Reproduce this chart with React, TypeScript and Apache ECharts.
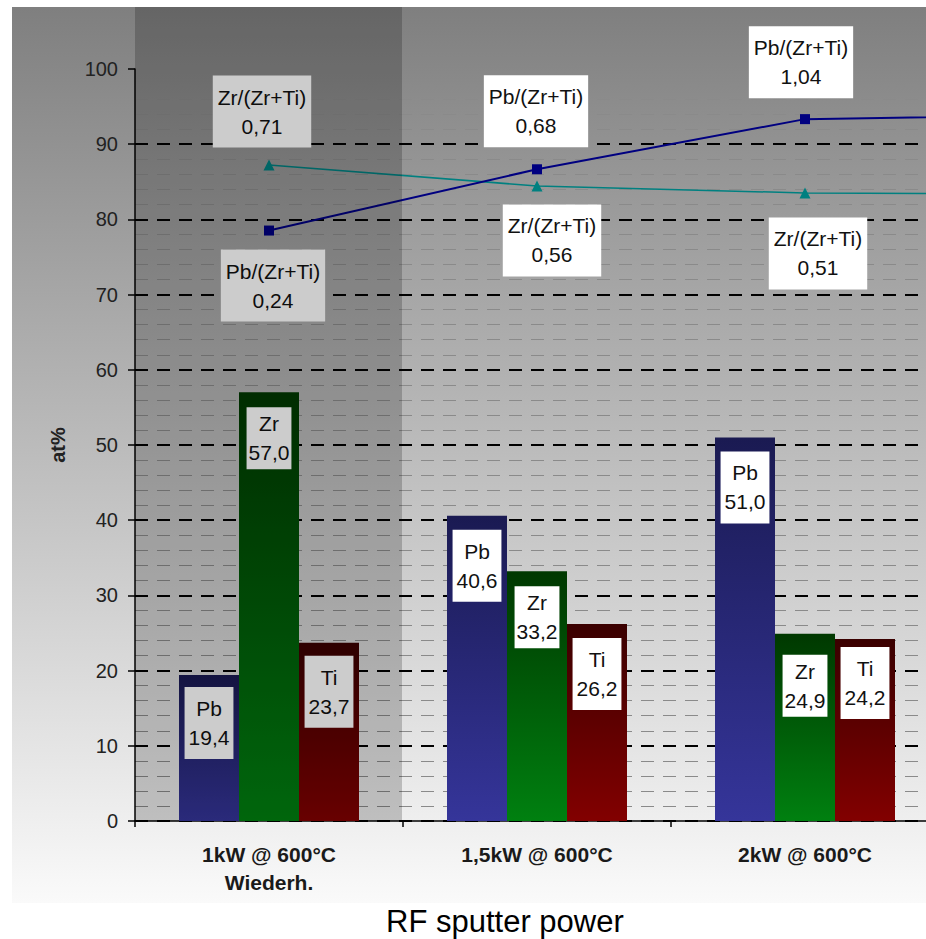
import React, { useEffect, useRef } from "react";
import * as echarts from "echarts";

// Sputter runs (the last slot only carries the continuing ratio lines)
const categories = ["1kW @ 600°C\nWiederh.", "1,5kW @ 600°C", "2kW @ 600°C", ""];

// Film composition in at%
const pbValues: (number | null)[] = [19.4, 40.6, 51.0, null];
const zrValues: (number | null)[] = [57.0, 33.2, 24.9, null];
const tiValues: (number | null)[] = [23.7, 26.2, 24.2, null];

// Ratios, plotted against a hidden secondary axis
const pbRatio = [0.24, 0.68, 1.04, 1.07];
const zrRatio = [0.71, 0.56, 0.51, 0.5];

// Layout
const W = 926;
const H = 939;
const GRID_LEFT = 135;
const GRID_TOP = 69;
const AXIS_Y = 821;
const CAT_W = 268;
const CANVAS_W = GRID_LEFT + CAT_W * categories.length;
const FONT = "'Liberation Sans', Arial, sans-serif";

const fmt1 = (v: number) => v.toFixed(1).replace(".", ",");
const fmt2 = (v: number) => v.toFixed(2).replace(".", ",");

// Per-point label placement
const barLabelDistance: Record<string, number[]> = {
  Pb: [12, 14, 14],
  Zr: [15, 15, 21],
  Ti: [13, 14, 8],
};
const lineLabelPlacement: Record<string, { position: string; distance: number; offset: number[] }[]> = {
  "Pb/(Zr+Ti)": [
    { position: "bottom", distance: 14, offset: [4, 0] },
    { position: "top", distance: 17, offset: [-1, 0] },
    { position: "top", distance: 16, offset: [-4, 0] },
  ],
  "Zr/(Zr+Ti)": [
    { position: "top", distance: 12, offset: [-7, 0] },
    { position: "bottom", distance: 13, offset: [15, 0] },
    { position: "bottom", distance: 19, offset: [13, 0] },
  ],
};

const grad = (top: string, bottom: string) =>
  new echarts.graphic.LinearGradient(0, 0, 0, 1, [
    { offset: 0, color: top },
    { offset: 1, color: bottom },
  ]);

function barSeries(name: string, values: (number | null)[], top: string, bottom: string, padding: number[]) {
  return {
    type: "bar",
    name,
    barWidth: 60,
    barGap: "0%",
    itemStyle: { color: grad(top, bottom) },
    label: {
      show: true,
      position: "insideTop",
      formatter: (p: any) => `${p.seriesName}\n${fmt1(p.value)}`,
      backgroundColor: "#ffffff",
      padding,
      fontSize: 21,
      lineHeight: 29,
      color: "#111111",
      fontFamily: FONT,
      align: "center",
    },
    data: values.map((v, i) =>
      v == null
        ? null
        : { value: v, label: { distance: (barLabelDistance[name] || [])[i] ?? 14 } }
    ),
  };
}

function lineSeries(name: string, values: number[], color: string, symbol: string, symbolSize: number, width: number) {
  const place = lineLabelPlacement[name] || [];
  return {
    type: "line",
    name,
    yAxisIndex: 1,
    symbol,
    symbolSize,
    itemStyle: { color },
    lineStyle: { color, width },
    label: {
      show: true,
      formatter: (p: any) => `${p.seriesName}\n${fmt2(p.value)}`,
      backgroundColor: "#ffffff",
      padding: [7, 5],
      fontSize: 21,
      lineHeight: 29,
      color: "#111111",
      fontFamily: FONT,
      align: "center",
    },
    data: values.map((v, i) =>
      place[i]
        ? { value: v, label: { position: place[i].position, distance: place[i].distance, offset: place[i].offset } }
        : { value: v, label: { show: false } }
    ),
  };
}

export default function App() {
  const ref = useRef<HTMLDivElement>(null);

  useEffect(() => {
    if (!ref.current) return;
    const chart = echarts.init(ref.current, null, { renderer: "svg" });

    chart.setOption({
      animation: false,
      backgroundColor: "#ffffff",
      textStyle: { fontFamily: FONT },
      title: {
        text: "RF sputter power",
        left: 386,
        top: 906,
        padding: 0,
        textStyle: { fontSize: 31, fontWeight: "normal", color: "#000000", fontFamily: FONT },
      },
      graphic: [
        {
          type: "rect",
          z: -10,
          silent: true,
          shape: { x: 12, y: 7, width: CANVAS_W, height: 896 },
          style: {
            fill: new echarts.graphic.LinearGradient(0, 0, 0, 1, [
              { offset: 0, color: "#7f7f7f" },
              { offset: 1, color: "#fafafa" },
            ]),
          },
        },
        {
          // shaded band over the repeated run
          type: "rect",
          z: 100,
          silent: true,
          shape: { x: GRID_LEFT, y: 7, width: CAT_W - 1, height: AXIS_Y - 7 },
          style: { fill: "rgba(0,0,0,0.2)" },
        },
      ],
      grid: {
        left: GRID_LEFT,
        top: GRID_TOP,
        right: 0,
        bottom: H - AXIS_Y,
        containLabel: false,
      },
      xAxis: {
        type: "category",
        data: categories,
        axisLine: { show: true, lineStyle: { color: "#000000", width: 1.5 } },
        axisTick: { show: true, length: 6, lineStyle: { color: "#000000", width: 1.5 } },
        axisLabel: {
          fontSize: 21,
          fontWeight: "bold",
          color: "#1a1a1a",
          lineHeight: 28,
          margin: 19,
          fontFamily: FONT,
          interval: 0,
        },
        splitLine: { show: false },
      },
      yAxis: [
        {
          type: "value",
          min: 0,
          max: 100,
          interval: 10,
          name: "at%",
          nameLocation: "middle",
          nameRotate: 90,
          nameGap: 67,
          nameTextStyle: { fontSize: 20, fontWeight: "bold", color: "#222222", fontFamily: FONT },
          axisLine: { show: true, lineStyle: { color: "#000000", width: 1.5 } },
          axisTick: { show: true, length: 7, lineStyle: { color: "#000000", width: 1.5 } },
          axisLabel: { fontSize: 20, color: "#222222", margin: 17, fontFamily: FONT },
          splitLine: {
            show: true,
            showMaxLine: false,
            lineStyle: { color: "#000000", width: 1.8, type: [13, 9] },
          },
          minorTick: { show: false, splitNumber: 5 },
          minorSplitLine: {
            show: true,
            lineStyle: { color: "#8a8a8a", width: 1, type: [13, 9] },
          },
        },
        {
          type: "value",
          min: -4,
          max: 1.4,
          show: false,
          splitLine: { show: false },
        },
      ],
      series: [
        barSeries("Pb", pbValues, "#1a1a52", "#35359a", [7, 4]),
        barSeries("Zr", zrValues, "#003800", "#008010", [2, 2]),
        barSeries("Ti", tiValues, "#3a0000", "#820000", [7, 4]),
        lineSeries("Zr/(Zr+Ti)", zrRatio, "#008080", "triangle", 11, 1.5),
        lineSeries("Pb/(Zr+Ti)", pbRatio, "#000080", "rect", 10, 2),
      ],
    });

    return () => chart.dispose();
  }, []);

  return (
    <div style={{ position: "absolute", left: 0, top: 0, width: W, height: H, overflow: "hidden" }}>
      <div ref={ref} style={{ width: CANVAS_W, height: H }} />
    </div>
  );
}
